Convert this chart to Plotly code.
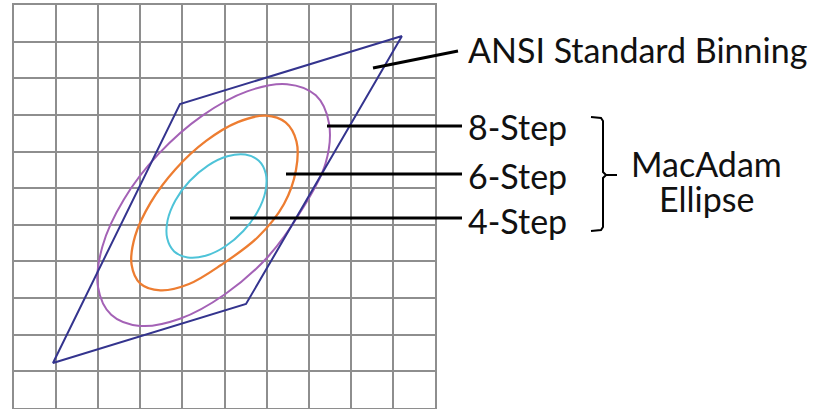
import plotly.graph_objects as go

# ---------------- data (grid units: 10 columns x 11 rows) ----------------
ansi_x = [9.216, 3.943, 0.926, 5.511, 9.216]
ansi_y = [10.153, 8.297, 1.228, 2.838, 10.153]

step8_x = [7.169, 6.485, 5.537, 4.466, 3.435, 2.606, 2.100, 1.995, 2.309, 2.993, 3.941, 5.012,
           6.043, 6.829, 7.399, 7.482, 7.169]
step8_y = [8.534, 8.840, 8.644, 7.975, 6.935, 5.685, 4.410, 3.308, 2.546, 2.241, 2.437, 3.106,
           4.143, 5.396, 6.670, 7.773, 8.534]

step6_x = [6.451, 5.979, 5.316, 4.563, 3.836, 3.245, 2.876, 2.793, 3.002, 3.475, 4.157, 4.917,
           5.796, 6.413, 6.698, 6.710, 6.451]
step6_y = [7.795, 7.980, 7.803, 7.290, 6.518, 5.606, 4.692, 3.914, 3.395, 3.210, 3.384, 3.903,
           4.667, 5.568, 6.496, 7.273, 7.795]

step4_x = [5.815, 5.494, 5.069, 4.606, 4.173, 3.836, 3.648, 3.639, 3.805, 4.126, 4.551, 5.014,
           5.447, 5.784, 5.971, 5.981, 5.815]
step4_y = [6.750, 6.919, 6.872, 6.618, 6.195, 5.671, 5.120, 4.632, 4.274, 4.108, 4.154, 4.408,
           4.831, 5.355, 5.906, 6.395, 6.750]

series_names = ["ANSI Standard Binning", "8-Step", "6-Step", "4-Step"]
group_label = ["MacAdam", "Ellipse"]

# ---------------- figure ----------------
W, H = 814, 409
L, R, T, B = 14, 435, 5, 408   # plot-area edges in pixels


def pxx(v):
    return (v - L) / (R - L)


def pxy(v):
    return (B - v) / (B - T)


fig = go.Figure()
fig.add_trace(go.Scatter(x=step8_x, y=step8_y, mode="lines",
                         line=dict(color="#a462b6", width=2, shape="spline", smoothing=1)))
fig.add_trace(go.Scatter(x=step6_x, y=step6_y, mode="lines",
                         line=dict(color="#ed7d31", width=2.3, shape="spline", smoothing=1)))
fig.add_trace(go.Scatter(x=step4_x, y=step4_y, mode="lines",
                         line=dict(color="#4ec3d8", width=2, shape="spline", smoothing=1)))
fig.add_trace(go.Scatter(x=ansi_x, y=ansi_y, mode="lines", line=dict(color="#34348e", width=2)))

axis_common = dict(showgrid=True, gridcolor="#8e8e8e", gridwidth=2, dtick=1, tick0=0,
                   showticklabels=False, ticks="", zeroline=False, showline=True, mirror=True,
                   linecolor="#8e8e8e", linewidth=2, fixedrange=True)
fig.update_xaxes(range=[0, 10], **axis_common)
fig.update_yaxes(range=[0, 11], **axis_common)

# leader lines (pixel positions converted to paper coordinates)
leaders = [((373, 68), (458, 51)), ((327, 126), (462, 126)), ((286, 174), (462, 174)),
           ((230, 218), (462, 218))]
shapes = []
for (x0, y0), (x1, y1) in leaders:
    shapes.append(dict(type="line", xref="paper", yref="paper", x0=pxx(x0), y0=pxy(y0),
                       x1=pxx(x1), y1=pxy(y1), line=dict(color="#000000", width=3)))
bracket = [(591, 117), (601, 118), (603, 121), (603, 172), (606, 175), (617, 175), (606, 175),
           (603, 178), (603, 227), (601, 230), (591, 231)]
path = "M " + " L ".join(f"{pxx(a):.5f},{pxy(b):.5f}" for a, b in bracket)
shapes.append(dict(type="path", xref="paper", yref="paper", path=path,
                   line=dict(color="#000000", width=2)))

font = dict(family="Lato, Open Sans, sans-serif", size=34, color="#111111")
ann = []
for name, (xl, yc) in zip(series_names, [(466, 49), (466, 127), (466, 175), (466, 221)]):
    ann.append(dict(text=name, xref="paper", yref="paper", x=pxx(xl), y=pxy(yc), xanchor="left",
                    yanchor="middle", showarrow=False, font=font))
for name, yc in zip(group_label, [163, 198]):
    ann.append(dict(text=name, xref="paper", yref="paper", x=pxx(706), y=pxy(yc), xanchor="center",
                    yanchor="middle", showarrow=False, font=font))

fig.update_layout(width=W, height=H, margin=dict(l=L, r=W - R, t=T, b=H - B),
                  plot_bgcolor="white", paper_bgcolor="white", showlegend=False,
                  shapes=shapes, annotations=ann)

fig.write_html("out.html", config={"displayModeBar": False},
               post_script="document.body.style.margin='0';document.body.style.overflow='hidden';")
